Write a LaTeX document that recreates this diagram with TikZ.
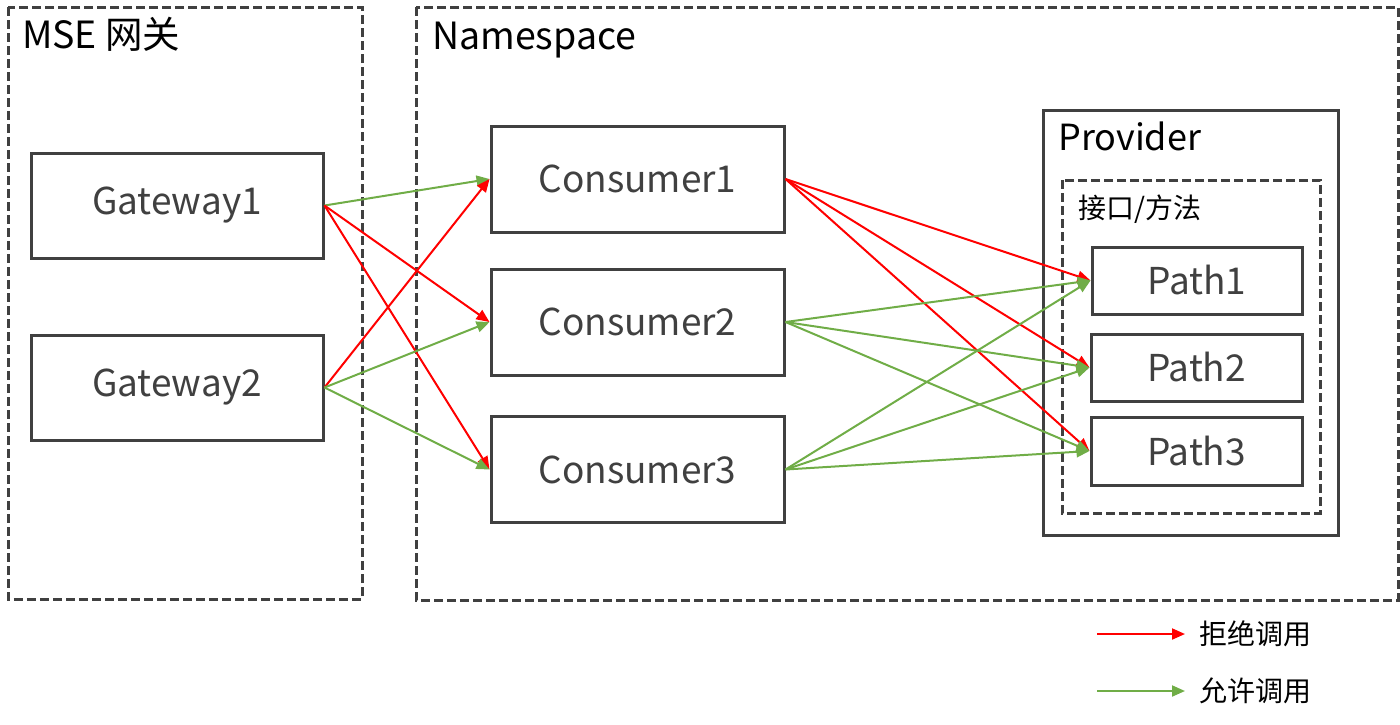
\documentclass[tikz,border=0pt]{standalone}
\usepackage{fontspec}
\setmainfont{Noto Sans CJK SC}
\usetikzlibrary{arrows.meta}
\definecolor{boxgray}{HTML}{404040}
\definecolor{okgreen}{HTML}{70AD47}
\definecolor{nored}{HTML}{FF0000}
\tikzset{
  dbox/.style={draw=boxgray, line width=3pt, dash pattern=on 9pt off 4pt},
  sbox/.style={draw=boxgray, line width=3pt},
  svc/.style={draw=boxgray, line width=3pt, inner sep=0pt, text=boxgray,
    font=\fontsize{37}{42}\selectfont},
  title/.style={anchor=base west, inner sep=0pt, text=black, font=\fontsize{37.5}{42}\selectfont},
  small/.style={anchor=base west, inner sep=0pt, text=black, font=\fontsize{28}{32}\selectfont},
  arr/.style={line width=2pt, -{Triangle[length=13pt,width=11pt]}},
  deny/.style={arr, draw=nored, fill=nored},
  allow/.style={arr, draw=okgreen, fill=okgreen},
}
\begin{document}
\begin{tikzpicture}[x=1pt,y=-1pt]
\useasboundingbox (0,0) rectangle (1400,724);
% containers
\draw[dbox] (8,7) rectangle (362,599);
\draw[dbox] (416,7) rectangle (1398,600);
\draw[sbox] (1043,110) rectangle (1338,535);
\draw[dbox] (1062,180) rectangle (1320,513);
\node[title] (tmse) at (22,48) {MSE 网关};
\node[title] (tns) at (432,49) {Namespace};
\node[title, font=\fontsize{36}{40}\selectfont] (tprov) at (1058,150) {Provider};
\node[small] (tif) at (1078,218) {接口/方法};
% services
\node[svc, minimum width=292pt, minimum height=105pt] (g1) at (177,205.5) {Gateway1};
\node[svc, minimum width=292pt, minimum height=105pt] (g2) at (177,387.5) {Gateway2};
\node[svc, minimum width=293pt, minimum height=106pt] (c1) at (637.5,179) {Consumer1};
\node[svc, minimum width=293pt, minimum height=106pt] (c2) at (637.5,322) {Consumer2};
\node[svc, minimum width=293pt, minimum height=106pt] (c3) at (637.5,469.5) {Consumer3};
\node[svc, minimum width=210pt, minimum height=67pt] (p1) at (1197,280.5) {Path1};
\node[svc, minimum width=211pt, minimum height=67pt] (p2) at (1196.5,367.5) {Path2};
\node[svc, minimum width=211pt, minimum height=68pt] (p3) at (1196.5,451) {Path3};
% gateway -> consumer
\draw[allow] (g1.east) -- (c1.west);
\draw[deny] (g1.east) -- (c2.west);
\draw[deny] (g1.east) -- (c3.west);
\draw[deny] (g2.east) -- (c1.west);
\draw[allow] (g2.east) -- (c2.west);
\draw[allow] (g2.east) -- (c3.west);
% consumer -> path
\draw[deny] (c1.east) -- (p1.west);
\draw[deny] (c1.east) -- (p2.west);
\draw[deny] (c1.east) -- (p3.west);
\draw[allow] (c2.east) -- (p1.west);
\draw[allow] (c2.east) -- (p2.west);
\draw[allow] (c2.east) -- (p3.west);
\draw[allow] (c3.east) -- (p1.west);
\draw[allow] (c3.east) -- (p2.west);
\draw[allow] (c3.east) -- (p3.west);
% legend
\coordinate (lr1) at (1097,634);
\coordinate (lr2) at (1185,634);
\coordinate (lg1) at (1097,691);
\coordinate (lg2) at (1185,691);
\draw[deny] (lr1) -- (lr2);
\draw[allow] (lg1) -- (lg2);
\node[small] (tdeny) at (1199,644) {拒绝调用};
\node[small] (tallow) at (1199,701) {允许调用};
\end{tikzpicture}
\end{document}
